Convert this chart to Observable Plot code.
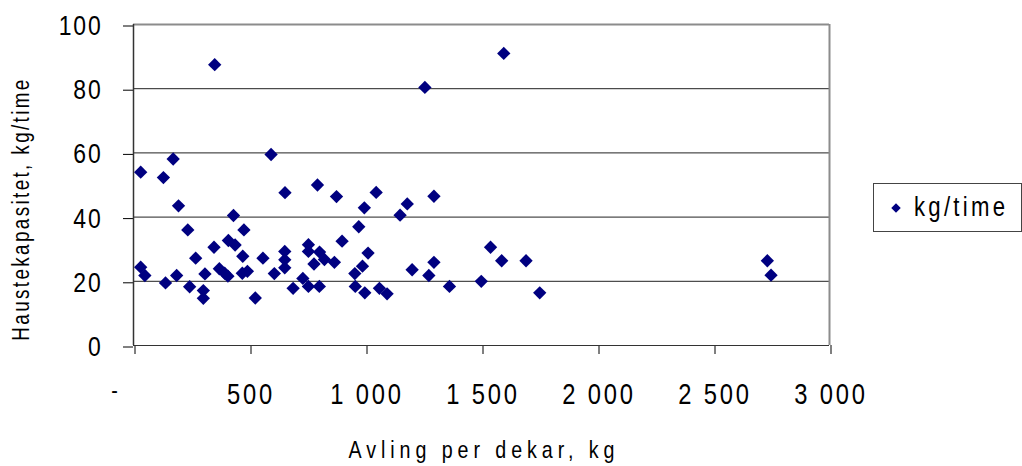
<!DOCTYPE html>
<html>
<head>
<meta charset="utf-8">
<script src="https://cdn.jsdelivr.net/npm/d3@7"></script>
<script src="https://cdn.jsdelivr.net/npm/@observablehq/plot@0.6"></script>
<style>
  html, body { margin: 0; padding: 0; background: #fff; }
  #wrap { position: relative; width: 1022px; height: 466px; }
  #wrap svg { font-family: "Liberation Sans", Arial, sans-serif; color: #000; }
  g[aria-label="x-axis tick label"] text { letter-spacing: 3.4px; }
  g[aria-label="y-axis tick label"] text { letter-spacing: 2.2px; }
  g.xtitle text { letter-spacing: 6px; }
  g.ytitle text { letter-spacing: 2.9px; }
  #legend {
    position: absolute; left: 873px; top: 183px; width: 149px; height: 49px;
    box-sizing: border-box; border: 1px solid #444; background: #fff;
    display: flex; align-items: center; padding-left: 16px;
  }
  #legend .name {
    font-family: "Liberation Sans", Arial, sans-serif; font-size: 27px; color: #000;
    letter-spacing: 4px; display: inline-block; transform: scaleX(0.82); transform-origin: left center;
    margin-left: 12px; white-space: nowrap;
  }
</style>
</head>
<body>
<div id="wrap"></div>
<script>
// Yield per decare (kg) and harvesting capacity (kg/time) for each observation
const yieldKg = [31,171,129,194,431,593,653,793,234,476,
  409,438,347,268,471,558,652,652,652,754,
  754,802,778,31,49,138,186,242,308,301,
  301,370,393,407,469,491,525,607,688,730,
  754,801,875,1046,995,1180,1295,1149,971,899,
  823,866,1011,987,954,956,997,1060,1093,1201,
  1273,1295,1362,1499,1539,1587,1692,1751,350,1256,
  1596,2732,2748];
const capacity = [54.0,58.1,52.3,43.5,40.5,59.5,47.6,50.0,36.0,36.0,
  32.7,31.3,30.6,27.2,27.8,27.2,29.3,26.7,24.2,31.4,
  29.3,29.1,25.4,24.4,21.8,19.5,21.8,18.3,22.3,17.1,
  14.7,23.9,22.5,21.6,22.5,23.1,14.8,22.4,17.8,20.9,
  18.4,18.4,46.4,47.7,42.9,44.1,46.5,40.6,37.0,32.5,
  26.8,25.9,28.8,24.7,22.4,18.4,16.4,17.8,16.1,23.6,
  21.8,25.9,18.4,20.0,30.6,26.4,26.4,16.4,87.5,80.4,
  91.0,26.4,21.9];

const seriesName = "kg/time";
const xTitle = "Avling per dekar, kg";
const yTitle = "Haustekapasitet, kg/time";
const xTicks = [0, 500, 1000, 1500, 2000, 2500, 3000];
const yTicks = [0, 20, 40, 60, 80, 100];

const points = yieldKg.map((x, i) => ({x, y: capacity[i]}));

// Norwegian number style: space as thousands separator, zero shown as a dash
const nb = d3.formatLocale({decimal: ",", thousands: " ", grouping: [3], currency: ["", ""]});
const fmt = nb.format(",");

const navy = "#000080";

const chart = Plot.plot({
  width: 1022,
  height: 466,
  marginLeft: 133,
  marginRight: 193,
  marginTop: 24,
  marginBottom: 121,
  x: {domain: [0, 3000]},
  y: {domain: [0, 100]},
  marks: [
    // horizontal gridlines
    Plot.ruleY(yTicks.slice(1, -1), {stroke: "#222", strokeWidth: 1}),
    // plot area border (top and right)
    Plot.ruleY([100], {stroke: "#8c8c8c", strokeWidth: 2}),
    Plot.ruleX([3000], {stroke: "#8c8c8c", strokeWidth: 2}),
    // axes
    Plot.axisY(yTicks, {tickSize: 10, tickPadding: 21, tickFormat: d => String(d), fontSize: 28, dy: 1.5, label: null}),
    Plot.axisX(xTicks, {tickSize: 9, tickPadding: 29, tickFormat: d => d === 0 ? "" : fmt(d), fontSize: 29, dx: 1.5, label: null}),
    Plot.text([0], {x: d => d, frameAnchor: "bottom", text: () => "-", fontSize: 24, dx: -19, dy: 52}),
    Plot.ruleX([0], {stroke: "#333", strokeWidth: 1.5}),
    Plot.ruleY([0], {stroke: "#333", strokeWidth: 1}),
    // observations
    Plot.dot(points, {x: "x", y: "y", symbol: "diamond2", r: 6, fill: navy, stroke: "none"}),
    // axis titles
    Plot.text([xTitle], {frameAnchor: "bottom", text: d => d, lineAnchor: "top", fontSize: 24, dx: 2.5, dy: 95, className: "xtitle"}),
    Plot.text([yTitle], {frameAnchor: "left", textAnchor: "middle", text: d => d, rotate: -90, fontSize: 23, dx: -112, dy: 24, className: "ytitle"})
  ]
});

// condensed lettering: squeeze every label horizontally about its own anchor
d3.select(chart).selectAll("text").each(function() {
  const t = this.getAttribute("transform") || "";
  this.setAttribute("transform", t + " scale(0.82,1)");
});

const wrap = document.getElementById("wrap");
wrap.appendChild(chart);

// legend box to the right of the plot area
const legend = d3.select(wrap).append("div").attr("id", "legend");
const sw = legend.append("svg").attr("width", 12).attr("height", 12).style("overflow", "visible");
sw.append("path")
  .attr("transform", "translate(6,6)")
  .attr("d", d3.symbol(d3.symbolDiamond2, Math.PI * 4.3 * 4.3)())
  .attr("fill", navy);
legend.append("span").attr("class", "name").text(seriesName);
</script>
</body>
</html>
